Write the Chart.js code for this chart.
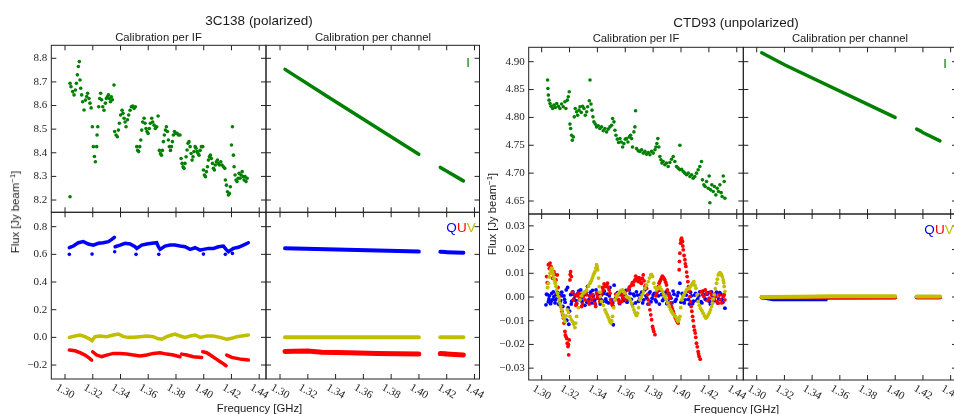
<!DOCTYPE html>
<html>
<head>
<meta charset="utf-8">
<script src="https://cdn.jsdelivr.net/npm/chart.js@4/dist/chart.umd.min.js"></script>
<style>
  body { margin: 0; background: #fff; width: 954px; height: 414px; overflow: hidden; position: relative;
         font-family: 'Liberation Sans', Arial, sans-serif; color: #1a1a1a; }
  canvas { position: absolute; left: 0; top: 0; z-index: 1; }
  .t { position: absolute; white-space: nowrap; transform: translate(-50%, -50%); line-height: 1; z-index: 2; }
  .rot { transform: translate(-50%, -50%) rotate(-90deg); }
  sup { font-size: 0.7em; vertical-align: 0.45em; }
</style>
</head>
<body>
<div class="t" style="left:259px;top:21px;font-size:13.5px">3C138 (polarized)</div>
<div class="t" style="left:736px;top:22.5px;font-size:13.5px">CTD93 (unpolarized)</div>
<div class="t" style="left:158.5px;top:37.5px;font-size:11.3px">Calibration per IF</div>
<div class="t" style="left:373px;top:37.5px;font-size:11.3px">Calibration per channel</div>
<div class="t" style="left:636px;top:39px;font-size:11.3px">Calibration per IF</div>
<div class="t" style="left:850px;top:39px;font-size:11.3px">Calibration per channel</div>
<div class="t rot" style="left:15px;top:212px;font-size:11.3px">Flux [Jy beam<sup>−1</sup>]</div>
<div class="t rot" style="left:492px;top:214px;font-size:11.3px">Flux [Jy beam<sup>−1</sup>]</div>
<div class="t" style="left:259.5px;top:409px;font-size:11.3px">Frequency [GHz]</div>
<div class="t" style="left:736.5px;top:410px;font-size:11.3px">Frequency [GHz]</div>
<div class="t" style="left:468px;top:62px;font-size:13px;color:#008000">I</div>
<div class="t" style="left:945px;top:63px;font-size:13px;color:#008000">I</div>
<div class="t" style="left:461px;top:228px;font-size:13.5px"><span style="color:#0000ff">Q</span><span style="color:#ff0000">U</span><span style="color:#bfbf00">V</span></div>
<div class="t" style="left:939px;top:230px;font-size:13.5px"><span style="color:#0000ff">Q</span><span style="color:#ff0000">U</span><span style="color:#bfbf00">V</span></div>

<script>
// ---- axis ticks ----
const freqTicks = [1.30, 1.32, 1.34, 1.36, 1.38, 1.40, 1.42, 1.44];
const freqLabels = ['1.30', '1.32', '1.34', '1.36', '1.38', '1.40', '1.42', '1.44'];
const c138ITicks = [8.2, 8.3, 8.4, 8.5, 8.6, 8.7, 8.8];
const c138ILabels = ['8.2', '8.3', '8.4', '8.5', '8.6', '8.7', '8.8'];
const c138PolTicks = [-0.2, 0.0, 0.2, 0.4, 0.6, 0.8];
const c138PolLabels = ['−0.2', '0.0', '0.2', '0.4', '0.6', '0.8'];
const ctdITicks = [4.65, 4.70, 4.75, 4.80, 4.85, 4.90];
const ctdILabels = ['4.65', '4.70', '4.75', '4.80', '4.85', '4.90'];
const ctdPolTicks = [-0.03, -0.02, -0.01, 0.0, 0.01, 0.02, 0.03];
const ctdPolLabels = ['−0.03', '−0.02', '−0.01', '0.00', '0.01', '0.02', '0.03'];

// ---- 3C138, calibration per IF  [GHz, Jy/beam] ----
const c138IfI = [
  [1.3036,8.214],[1.3036,8.694],[1.3043,8.680],[1.3055,8.659],[1.3065,8.645],[1.3075,8.666],[1.3082,8.694],
  [1.3089,8.730],[1.3096,8.765],[1.3103,8.786],[1.3108,8.708],[1.3113,8.673],[1.3120,8.645],[1.3127,8.616],
  [1.3137,8.581],[1.3147,8.623],[1.3156,8.638],[1.3163,8.652],[1.3173,8.630],[1.3180,8.610],[1.3188,8.590],
  [1.3197,8.510],[1.3204,8.426],[1.3212,8.384],[1.3219,8.362],[1.3228,8.426],[1.3231,8.475],[1.3236,8.510],
  [1.3243,8.595],[1.3250,8.630],[1.3257,8.652],[1.3264,8.624],[1.3272,8.595],[1.3281,8.580],[1.3291,8.610],
  [1.3298,8.630],[1.3305,8.637],[1.3313,8.645],[1.3320,8.630],[1.3327,8.616],[1.3334,8.637],[1.3341,8.624],
  [1.3353,8.687],[1.3358,8.490],[1.3368,8.475],[1.3377,8.468],[1.3385,8.496],[1.3392,8.525],[1.3401,8.560],
  [1.3411,8.580],[1.3418,8.567],[1.3426,8.546],[1.3433,8.530],[1.3440,8.510],[1.3450,8.540],[1.3459,8.560],
  [1.3469,8.580],[1.3478,8.595],[1.3488,8.598],[1.3498,8.588],[1.3507,8.595],[1.3517,8.426],[1.3524,8.410],
  [1.3531,8.405],[1.3539,8.426],[1.3546,8.454],[1.3553,8.496],[1.3560,8.530],[1.3570,8.546],[1.3577,8.525],
  [1.3584,8.503],[1.3591,8.490],[1.3599,8.482],[1.3608,8.503],[1.3615,8.525],[1.3625,8.546],[1.3632,8.530],
  [1.3642,8.517],[1.3651,8.503],[1.3661,8.510],[1.3671,8.556],[1.3680,8.410],[1.3688,8.397],[1.3695,8.390],
  [1.3702,8.410],[1.3709,8.447],[1.3716,8.475],[1.3724,8.496],[1.3731,8.510],[1.3738,8.490],[1.3745,8.454],
  [1.3752,8.426],[1.3760,8.410],[1.3767,8.426],[1.3774,8.447],[1.3781,8.475],[1.3789,8.490],[1.3798,8.482],
  [1.3808,8.482],[1.3817,8.475],[1.3829,8.475],[1.3837,8.376],[1.3844,8.355],[1.3851,8.341],[1.3858,8.334],
  [1.3865,8.355],[1.3873,8.383],[1.3880,8.412],[1.3887,8.440],[1.3894,8.447],[1.3902,8.426],[1.3909,8.397],
  [1.3916,8.369],[1.3923,8.383],[1.3930,8.405],[1.3938,8.426],[1.3945,8.419],[1.3952,8.405],[1.3959,8.397],
  [1.3966,8.390],[1.3974,8.410],[1.3983,8.426],[1.3993,8.426],[1.3998,8.327],[1.4005,8.306],[1.4012,8.299],
  [1.4019,8.320],[1.4027,8.341],[1.4034,8.369],[1.4041,8.383],[1.4048,8.390],[1.4055,8.376],[1.4063,8.355],
  [1.4070,8.334],[1.4077,8.327],[1.4084,8.348],[1.4091,8.362],[1.4099,8.369],[1.4106,8.355],[1.4113,8.348],
  [1.4123,8.362],[1.4132,8.348],[1.4142,8.341],[1.4152,8.334],[1.4156,8.285],[1.4164,8.263],[1.4171,8.235],
  [1.4178,8.221],[1.4185,8.228],[1.4192,8.256],[1.4200,8.433],[1.4207,8.510],[1.4214,8.390],[1.4219,8.341],
  [1.4226,8.306],[1.4233,8.285],[1.4240,8.278],[1.4248,8.292],[1.4255,8.313],[1.4262,8.292],[1.4269,8.306],
  [1.4277,8.320],[1.4284,8.299],[1.4291,8.285],[1.4298,8.299],[1.4305,8.278],[1.4313,8.292]
];
// Q, U, V form near-continuous bands; null marks a jump in the band
const c138IfQ = [
  [1.3031,0.648],[1.3060,0.660],[1.3096,0.684],[1.3132,0.692],[1.3168,0.675],[1.3204,0.667],[1.3240,0.680],
  [1.3276,0.684],[1.3313,0.692],[1.3337,0.708],[1.3356,0.723], null,
  [1.3361,0.655],[1.3397,0.667],[1.3433,0.680],[1.3469,0.675],[1.3505,0.655],[1.3517,0.643],[1.3553,0.667],
  [1.3589,0.675],[1.3625,0.680],[1.3661,0.684],[1.3673,0.655],[1.3685,0.636],[1.3721,0.660],[1.3757,0.667],
  [1.3793,0.667],[1.3829,0.660],[1.3865,0.655],[1.3902,0.636],[1.3938,0.648],[1.3974,0.631],[1.3998,0.636],
  [1.4034,0.643],[1.4070,0.643],[1.4106,0.655],[1.4142,0.660],[1.4161,0.636],[1.4178,0.619],[1.4214,0.643],
  [1.4250,0.651],[1.4286,0.667],[1.4322,0.684]
];
const c138IfQOutliers = [
  [1.3031,0.600],[1.3195,0.602],[1.3358,0.619],[1.3512,0.600],[1.3676,0.600],[1.3998,0.602],[1.4156,0.600],[1.4207,0.607]
];
const c138IfU = [
  [1.3031,-0.092],[1.3072,-0.097],[1.3108,-0.111],[1.3144,-0.128],[1.3168,-0.145],[1.3192,-0.164], null,
  [1.3199,-0.104],[1.3228,-0.128],[1.3264,-0.140],[1.3300,-0.128],[1.3349,-0.116],[1.3397,-0.116],[1.3445,-0.121],
  [1.3493,-0.128],[1.3541,-0.135],[1.3589,-0.128],[1.3637,-0.116],[1.3685,-0.111],[1.3733,-0.121],[1.3781,-0.128],
  [1.3829,-0.140], null,
  [1.3841,-0.121],[1.3877,-0.128],[1.3925,-0.140],[1.3985,-0.145], null,
  [1.3993,-0.104],[1.4022,-0.111],[1.4058,-0.135],[1.4094,-0.159],[1.4130,-0.183],[1.4161,-0.205], null,
  [1.4166,-0.128],[1.4202,-0.145],[1.4238,-0.152],[1.4274,-0.159],[1.4322,-0.164]
];
const c138IfV = [
  [1.3031,0.000],[1.3072,0.010],[1.3108,0.017],[1.3144,0.005],[1.3180,-0.014],[1.3195,-0.024],[1.3216,0.005],
  [1.3252,0.010],[1.3300,0.005],[1.3349,0.017],[1.3385,0.024],[1.3421,0.005],[1.3457,0.000],[1.3493,0.000],
  [1.3541,0.005],[1.3589,0.010],[1.3637,0.005],[1.3673,-0.010],[1.3697,-0.014],[1.3733,0.005],[1.3769,0.017],
  [1.3793,0.024],[1.3829,0.010],[1.3865,0.000],[1.3902,0.010],[1.3938,0.017],[1.3974,0.000],[1.4022,0.010],
  [1.4070,0.010],[1.4118,0.000],[1.4166,-0.014],[1.4202,-0.007],[1.4238,0.005],[1.4274,0.010],[1.4322,0.017]
];

// ---- 3C138, calibration per channel ----
const c138ChI = [[1.3036,8.753],[1.3344,8.637],[1.3999,8.394], null, [1.4154,8.338],[1.4188,8.326], null, [1.4198,8.323],[1.4320,8.281]];
const c138ChQ = [[1.3036,0.644],[1.3999,0.620], null, [1.4154,0.618],[1.4188,0.617], null, [1.4198,0.616],[1.4320,0.612]];
const c138ChU = [[1.3036,-0.102],[1.3100,-0.100],[1.3200,-0.098],[1.3300,-0.108],[1.3500,-0.112],[1.3700,-0.116],[1.3999,-0.121], null,
                 [1.4154,-0.117],[1.4188,-0.119], null, [1.4198,-0.121],[1.4320,-0.127]];
const c138ChV = [[1.3036,0.000],[1.3999,0.000], null, [1.4154,0.000],[1.4188,0.000], null, [1.4198,0.000],[1.4320,0.000]];

// ---- CTD93, calibration per IF ----
const ctdIfI = [
  [1.3043,4.867],[1.3045,4.852],[1.3048,4.840],[1.3053,4.831],[1.3060,4.825],[1.3067,4.820],[1.3079,4.816],
  [1.3088,4.822],[1.3098,4.818],[1.3108,4.825],[1.3120,4.820],[1.3131,4.816],[1.3143,4.824],[1.3155,4.819],
  [1.3167,4.828],[1.3174,4.816],[1.3184,4.831],[1.3191,4.837],[1.3198,4.846],[1.3203,4.788],[1.3208,4.780],
  [1.3215,4.768],[1.3220,4.759],[1.3227,4.765],[1.3234,4.801],[1.3241,4.816],[1.3251,4.810],[1.3258,4.804],
  [1.3268,4.813],[1.3275,4.819],[1.3284,4.809],[1.3294,4.820],[1.3304,4.816],[1.3313,4.804],[1.3323,4.810],
  [1.3330,4.819],[1.3342,4.830],[1.3347,4.867],[1.3354,4.824],[1.3361,4.813],[1.3368,4.801],[1.3375,4.792],
  [1.3385,4.788],[1.3394,4.783],[1.3406,4.785],[1.3418,4.780],[1.3430,4.783],[1.3442,4.776],[1.3454,4.780],
  [1.3466,4.774],[1.3478,4.779],[1.3490,4.783],[1.3502,4.786],[1.3509,4.798],[1.3519,4.792],[1.3526,4.777],
  [1.3533,4.768],[1.3543,4.761],[1.3552,4.755],[1.3562,4.762],[1.3571,4.756],[1.3581,4.747],[1.3590,4.753],
  [1.3600,4.761],[1.3609,4.762],[1.3619,4.756],[1.3629,4.765],[1.3638,4.768],[1.3645,4.762],[1.3652,4.747],
  [1.3662,4.774],[1.3669,4.783],[1.3674,4.812],[1.3681,4.744],[1.3693,4.740],[1.3705,4.739],[1.3717,4.742],
  [1.3729,4.736],[1.3741,4.739],[1.3753,4.734],[1.3765,4.737],[1.3777,4.733],[1.3789,4.739],[1.3801,4.736],
  [1.3813,4.742],[1.3820,4.747],[1.3827,4.753],[1.3834,4.762],[1.3841,4.747],[1.3848,4.730],[1.3856,4.724],
  [1.3863,4.718],[1.3872,4.721],[1.3884,4.715],[1.3896,4.718],[1.3908,4.712],[1.3920,4.719],[1.3932,4.725],
  [1.3944,4.730],[1.3956,4.721],[1.3968,4.712],[1.3980,4.709],[1.3992,4.750],[1.3992,4.706],[1.4004,4.707],
  [1.4016,4.703],[1.4028,4.700],[1.4040,4.697],[1.4052,4.700],[1.4064,4.694],[1.4076,4.697],[1.4087,4.691],
  [1.4099,4.694],[1.4111,4.700],[1.4123,4.706],[1.4135,4.712],[1.4147,4.721],[1.4154,4.688],[1.4164,4.679],
  [1.4173,4.676],[1.4183,4.685],[1.4195,4.673],[1.4202,4.695],[1.4207,4.647],[1.4212,4.670],[1.4221,4.679],
  [1.4231,4.667],[1.4240,4.676],[1.4250,4.661],[1.4260,4.673],[1.4269,4.667],[1.4279,4.679],[1.4288,4.665],
  [1.4295,4.658],[1.4303,4.695],[1.4310,4.685],[1.4315,4.655]
];
const ctdIfQ = [
  [1.3031,-0.0033],[1.3040,0.0010],[1.3048,-0.0020],[1.3056,0.0005],[1.3064,-0.0028],[1.3072,0.0015],[1.3080,-0.0010],
  [1.3088,0.0002],[1.3096,-0.0025],[1.3104,0.0012],[1.3112,-0.0005],[1.3120,-0.0030],[1.3128,0.0008],[1.3136,-0.0015],
  [1.3144,0.0020],[1.3152,-0.0040],[1.3160,0.0005],[1.3168,-0.0022],[1.3176,0.0030],[1.3180,-0.0098],[1.3186,0.0040],
  [1.3195,-0.0115],[1.3200,-0.0060],[1.3208,0.0010],[1.3216,-0.0018],[1.3224,0.0022],[1.3232,-0.0008],[1.3240,0.0005],
  [1.3250,-0.0030],[1.3260,0.0015],[1.3270,-0.0012],[1.3280,0.0030],[1.3290,-0.0020],[1.3300,0.0008],[1.3310,-0.0035],
  [1.3320,0.0012],[1.3330,0.0045],[1.3340,-0.0010],[1.3350,0.0020],[1.3360,-0.0025],[1.3370,0.0005],[1.3380,-0.0015],
  [1.3390,0.0030],[1.3400,-0.0005],[1.3410,0.0015],[1.3420,-0.0030],[1.3430,0.0008],[1.3440,-0.0018],[1.3450,0.0025],
  [1.3460,-0.0008],[1.3470,0.0012],[1.3480,-0.0025],[1.3490,0.0040],[1.3500,-0.0012],[1.3514,-0.0117],[1.3520,0.0050],
  [1.3530,-0.0005],[1.3545,0.0018],[1.3560,-0.0028],[1.3575,0.0010],[1.3590,-0.0015],[1.3605,0.0028],[1.3620,-0.0008],
  [1.3635,0.0015],[1.3650,-0.0030],[1.3665,0.0005],[1.3680,0.0022],[1.3695,-0.0018],[1.3710,0.0010],[1.3725,-0.0025],
  [1.3740,0.0030],[1.3755,-0.0005],[1.3770,0.0015],[1.3785,-0.0020],[1.3800,0.0008],[1.3815,-0.0012],[1.3830,0.0025],
  [1.3845,-0.0030],[1.3860,0.0010],[1.3875,-0.0008],[1.3890,0.0020],[1.3905,-0.0015],[1.3920,0.0005],[1.3935,-0.0025],
  [1.3950,0.0012],[1.3965,-0.0010],[1.3980,0.0018],[1.3992,0.0058],[1.4000,-0.0022],[1.4015,0.0008],[1.4030,-0.0012],
  [1.4045,0.0025],[1.4060,-0.0030],[1.4075,0.0005],[1.4090,-0.0018],[1.4105,0.0015],[1.4120,-0.0008],[1.4135,0.0022],
  [1.4150,-0.0025],[1.4165,0.0010],[1.4180,-0.0012],[1.4195,0.0018],[1.4210,-0.0030],[1.4225,0.0005],[1.4240,-0.0015],
  [1.4255,0.0020],[1.4270,-0.0008],[1.4285,0.0012],[1.4300,-0.0022],[1.4315,-0.0047],
  [1.3035,0.0012],[1.3052,-0.0008],[1.3068,-0.0018],[1.3084,0.0022],[1.3100,-0.0012],[1.3116,0.0018],[1.3132,-0.0022],
  [1.3148,0.0005],[1.3164,-0.0010],[1.3190,-0.0045],[1.3212,-0.0030],[1.3228,0.0012],[1.3245,-0.0015],[1.3265,0.0025],
  [1.3285,-0.0005],[1.3305,0.0018],[1.3325,-0.0022],[1.3345,0.0005],[1.3365,0.0028],[1.3385,-0.0030],[1.3405,0.0008],
  [1.3425,-0.0010],[1.3445,0.0015],[1.3465,-0.0020],[1.3485,0.0005],[1.3510,-0.0025],[1.3538,0.0012],[1.3553,-0.0012],
  [1.3568,0.0025],[1.3583,-0.0005],[1.3598,0.0010],[1.3613,-0.0022],[1.3628,0.0030],[1.3643,-0.0010],[1.3658,0.0012],
  [1.3673,-0.0025],[1.3688,0.0008],[1.3703,-0.0008],[1.3718,0.0020],[1.3733,-0.0012],[1.3748,0.0005],[1.3763,-0.0030],
  [1.3778,0.0022],[1.3793,-0.0005],[1.3808,0.0015],[1.3823,-0.0020],[1.3838,0.0005],[1.3853,0.0028],[1.3868,-0.0015],
  [1.3883,0.0008],[1.3898,-0.0028],[1.3913,0.0015],[1.3928,-0.0005],[1.3943,0.0025],[1.3958,-0.0018],[1.3973,0.0005],
  [1.4008,0.0015],[1.4023,-0.0025],[1.4038,0.0008],[1.4053,-0.0010],[1.4068,0.0020],[1.4083,-0.0028],[1.4098,0.0008],
  [1.4113,-0.0015],[1.4128,0.0005],[1.4143,-0.0020],[1.4158,0.0025],[1.4173,-0.0008],[1.4188,0.0012],[1.4203,-0.0018],
  [1.4218,0.0022],[1.4233,-0.0005],[1.4248,0.0010],[1.4263,-0.0025],[1.4278,0.0018],[1.4293,-0.0010],[1.4308,0.0008]
];
const ctdIfU = [
  [1.3036,0.0086],[1.3048,0.0136],[1.3060,0.0143],[1.3067,0.0129],[1.3079,0.0079],[1.3088,0.0107],[1.3103,0.0072],
  [1.3112,0.0093],[1.3124,0.0002],[1.3136,-0.0040],[1.3151,-0.0075],[1.3160,-0.0110],[1.3167,-0.0145],[1.3174,-0.0167],
  [1.3184,-0.0195],[1.3189,-0.0209],[1.3194,-0.0244],[1.3198,-0.0181],[1.3203,0.0072],[1.3208,0.0107],[1.3213,0.0086],
  [1.3227,-0.0012],[1.3239,0.0009],[1.3251,-0.0026],[1.3263,0.0016],[1.3275,-0.0005],[1.3287,-0.0040],[1.3299,0.0002],
  [1.3311,-0.0012],[1.3323,0.0009],[1.3335,-0.0019],[1.3347,0.0002],[1.3359,-0.0012],[1.3371,-0.0005],[1.3382,-0.0026],
  [1.3394,0.0016],[1.3406,-0.0005],[1.3418,-0.0019],[1.3430,0.0016],[1.3442,0.0030],[1.3454,0.0044],[1.3466,0.0051],
  [1.3478,0.0040],[1.3490,0.0016],[1.3502,-0.0026],[1.3514,-0.0040],[1.3526,-0.0012],[1.3538,0.0002],[1.3550,-0.0012],
  [1.3562,0.0009],[1.3574,-0.0019],[1.3586,-0.0005],[1.3598,0.0016],[1.3609,0.0002],[1.3621,0.0030],[1.3633,0.0044],
  [1.3645,0.0051],[1.3657,0.0051],[1.3669,0.0072],[1.3681,0.0079],[1.3693,0.0065],[1.3705,0.0072],[1.3717,0.0058],
  [1.3729,0.0093],[1.3741,0.0044],[1.3753,0.0037],[1.3765,-0.0012],[1.3777,-0.0054],[1.3789,-0.0096],[1.3796,-0.0124],
  [1.3805,-0.0145],[1.3813,-0.0159],[1.3825,0.0016],[1.3837,0.0044],[1.3848,0.0065],[1.3860,0.0079],[1.3872,0.0084],
  [1.3884,0.0072],[1.3896,0.0051],[1.3908,0.0016],[1.3920,-0.0005],[1.3932,-0.0040],[1.3944,-0.0061],[1.3956,-0.0082],
  [1.3968,-0.0099],[1.3980,-0.0110],[1.3987,0.0115],[1.3992,0.0185],[1.3997,0.0227],[1.4004,0.0248],[1.4011,0.0234],
  [1.4016,0.0199],[1.4028,0.0157],[1.4035,0.0129],[1.4044,0.0086],[1.4054,0.0044],[1.4064,0.0002],[1.4073,-0.0040],
  [1.4083,-0.0082],[1.4092,-0.0124],[1.4102,-0.0152],[1.4111,-0.0195],[1.4123,-0.0230],[1.4130,-0.0251],[1.4138,-0.0262],
  [1.4147,0.0023],[1.4164,0.0002],[1.4183,0.0016],[1.4202,-0.0005],[1.4219,0.0009],[1.4231,-0.0012],[1.4250,0.0002],
  [1.4267,-0.0026],[1.4283,-0.0012],[1.4303,0.0002],[1.4315,-0.0012],
  [1.3040,0.0060],[1.3055,0.0120],[1.3072,0.0110],[1.3095,0.0095],[1.3118,0.0040],[1.3145,-0.0060],[1.3157,-0.0090],
  [1.3170,-0.0160],[1.3180,-0.0175],[1.3192,-0.0200],[1.3205,0.0095],[1.3220,0.0020],[1.3245,-0.0035],[1.3257,0.0005],
  [1.3281,0.0012],[1.3293,-0.0030],[1.3317,0.0020],[1.3341,-0.0030],[1.3365,0.0010],[1.3388,-0.0040],[1.3400,0.0005],
  [1.3436,0.0040],[1.3448,0.0055],[1.3460,0.0045],[1.3472,0.0058],[1.3484,0.0030],[1.3496,-0.0010],[1.3508,-0.0035],
  [1.3532,0.0012],[1.3556,-0.0025],[1.3580,0.0008],[1.3604,-0.0010],[1.3627,0.0038],[1.3651,0.0060],[1.3663,0.0065],
  [1.3675,0.0088],[1.3687,0.0070],[1.3699,0.0082],[1.3711,0.0060],[1.3723,0.0078],[1.3735,0.0068],[1.3747,0.0050],
  [1.3759,0.0010],[1.3771,-0.0030],[1.3783,-0.0075],[1.3800,-0.0135],[1.3819,0.0005],[1.3831,0.0030],[1.3843,0.0058],
  [1.3854,0.0072],[1.3866,0.0088],[1.3878,0.0078],[1.3890,0.0062],[1.3902,0.0030],[1.3914,0.0005],[1.3926,-0.0025],
  [1.3938,-0.0050],[1.3950,-0.0072],[1.3962,-0.0090],[1.3974,-0.0105],[1.3989,0.0150],[1.3999,0.0240],[1.4007,0.0238],
  [1.4013,0.0215],[1.4022,0.0175],[1.4031,0.0140],[1.4040,0.0105],[1.4049,0.0065],[1.4059,0.0025],[1.4068,-0.0020],
  [1.4078,-0.0060],[1.4087,-0.0100],[1.4097,-0.0140],[1.4106,-0.0170],[1.4117,-0.0210],[1.4126,-0.0240],[1.4155,0.0010],
  [1.4174,0.0030],[1.4192,-0.0015],[1.4210,0.0020],[1.4225,-0.0025],[1.4240,0.0012],[1.4258,-0.0020],[1.4275,0.0008],
  [1.4293,-0.0025],[1.4309,0.0010]
];
const ctdIfV = [
  [1.3048,0.0058],[1.3060,0.0100],[1.3072,0.0122],[1.3079,0.0107],[1.3088,0.0079],[1.3098,0.0058],[1.3108,0.0030],
  [1.3120,0.0002],[1.3131,-0.0026],[1.3143,-0.0054],[1.3155,-0.0082],[1.3167,-0.0103],[1.3184,-0.0054],[1.3203,-0.0082],
  [1.3222,-0.0103],[1.3239,-0.0129],[1.3251,-0.0082],[1.3275,-0.0012],[1.3299,0.0016],[1.3323,0.0030],[1.3347,0.0058],
  [1.3359,0.0072],[1.3371,0.0093],[1.3382,0.0107],[1.3394,0.0136],[1.3402,0.0115],[1.3413,0.0044],[1.3423,0.0002],
  [1.3430,-0.0019],[1.3454,-0.0054],[1.3471,-0.0075],[1.3485,-0.0096],[1.3497,-0.0110],[1.3509,-0.0082],[1.3526,-0.0012],
  [1.3543,0.0009],[1.3562,0.0023],[1.3581,0.0030],[1.3598,0.0016],[1.3609,0.0002],[1.3629,-0.0005],[1.3645,-0.0026],
  [1.3662,-0.0054],[1.3676,-0.0075],[1.3688,-0.0068],[1.3705,-0.0012],[1.3722,0.0009],[1.3741,0.0037],[1.3765,0.0065],
  [1.3782,0.0093],[1.3796,0.0086],[1.3805,0.0058],[1.3825,0.0030],[1.3848,0.0044],[1.3868,0.0023],[1.3884,0.0002],
  [1.3896,-0.0012],[1.3915,-0.0040],[1.3932,-0.0061],[1.3949,-0.0075],[1.3968,-0.0089],[1.3980,-0.0103],[1.3992,-0.0082],
  [1.4004,-0.0012],[1.4021,0.0009],[1.4040,0.0030],[1.4059,0.0037],[1.4076,0.0051],[1.4092,0.0065],[1.4107,0.0037],
  [1.4123,-0.0019],[1.4140,-0.0047],[1.4159,-0.0068],[1.4178,-0.0089],[1.4195,-0.0075],[1.4212,-0.0054],[1.4226,-0.0026],
  [1.4238,0.0009],[1.4255,0.0058],[1.4267,0.0093],[1.4279,0.0103],[1.4291,0.0093],[1.4303,0.0072],[1.4310,0.0044],
  [1.4315,0.0023],
  [1.3043,0.0040],[1.3054,0.0085],[1.3066,0.0115],[1.3075,0.0118],[1.3083,0.0095],[1.3093,0.0068],[1.3103,0.0045],
  [1.3114,0.0015],[1.3125,-0.0012],[1.3137,-0.0040],[1.3149,-0.0068],[1.3161,-0.0092],[1.3175,-0.0080],[1.3193,-0.0065],
  [1.3212,-0.0095],[1.3230,-0.0115],[1.3245,-0.0110],[1.3263,-0.0045],[1.3287,0.0005],[1.3311,0.0022],[1.3335,0.0045],
  [1.3353,0.0065],[1.3365,0.0082],[1.3377,0.0100],[1.3388,0.0122],[1.3398,0.0128],[1.3408,0.0080],[1.3418,0.0020],
  [1.3442,-0.0035],[1.3462,-0.0065],[1.3478,-0.0085],[1.3491,-0.0105],[1.3503,-0.0100],[1.3517,-0.0045],[1.3535,0.0000],
  [1.3552,0.0015],[1.3571,0.0028],[1.3590,0.0022],[1.3619,-0.0002],[1.3637,-0.0015],[1.3654,-0.0040],[1.3669,-0.0065],
  [1.3682,-0.0078],[1.3696,-0.0045],[1.3713,-0.0002],[1.3731,0.0022],[1.3753,0.0050],[1.3773,0.0080],[1.3789,0.0095],
  [1.3815,0.0040],[1.3837,0.0038],[1.3858,0.0032],[1.3876,0.0012],[1.3890,-0.0005],[1.3905,-0.0025],[1.3924,-0.0052],
  [1.3940,-0.0068],[1.3958,-0.0082],[1.3974,-0.0098],[1.3986,-0.0095],[1.3998,-0.0045],[1.4012,0.0000],[1.4030,0.0020],
  [1.4050,0.0035],[1.4067,0.0045],[1.4084,0.0058],[1.4100,0.0050],[1.4115,0.0010],[1.4131,-0.0035],[1.4150,-0.0058],
  [1.4168,-0.0080],[1.4186,-0.0085],[1.4204,-0.0065],[1.4219,-0.0040],[1.4232,-0.0008],[1.4246,0.0035],[1.4261,0.0075],
  [1.4273,0.0098],[1.4285,0.0100],[1.4297,0.0085],[1.4307,0.0060]
];

// ---- CTD93, calibration per channel ----
const ctdChI = [[1.3036,4.916],[1.3204,4.894],[1.3999,4.800], null, [1.4155,4.779],[1.4188,4.775], null, [1.4198,4.773],[1.4323,4.758]];
const ctdChQ = [[1.3036,-0.0001],[1.3118,-0.0009],[1.3500,-0.0009],[1.3510,-0.0002],[1.3999,-0.0001], null, [1.4155,0.0000],[1.4323,0.0000]];
const ctdChU = [[1.3036,-0.0002],[1.3999,-0.0002], null, [1.4155,-0.0002],[1.4323,-0.0002]];
const ctdChV = [[1.3036,0.0000],[1.3300,0.0001],[1.3550,0.0003],[1.3999,0.0003], null, [1.4155,0.0002],[1.4188,0.0002], null, [1.4198,0.0002],[1.4323,0.0002]];

const GREEN = '#008000', BLUE = '#0000ff', RED = '#ff0000', YELLOW = '#bfbf00';
const W = 960, H = 414;

function toXY(pairs) {
  return pairs.map(p => ({ x: p[0], y: p[1] }));
}

// split at null markers so every stretch becomes its own line
function segments(pairs) {
  const out = [[]];
  pairs.forEach(p => {
    if (p === null) out.push([]);
    else out[out.length - 1].push({ x: p[0], y: p[1] });
  });
  return out.filter(s => s.length);
}

function dots(pairs, color, r) {
  return [{ data: toXY(pairs), backgroundColor: color, borderWidth: 0, pointRadius: r || 1.8, showLine: false }];
}

function lines(pairs, color, w) {
  return segments(pairs).map(d => ({
    data: d, borderColor: color, borderWidth: w, pointRadius: 0, showLine: true,
    borderCapStyle: 'round', spanGaps: false, fill: false
  }));
}

// spines, inward ticks and tick labels, placed through the chart's own scales
const framePlugin = {
  id: 'frame',
  afterDatasetsDraw(chart, args, o) {
    const { ctx, chartArea: a } = chart;
    const x = chart.scales.x, y = chart.scales.y;
    ctx.save();
    ctx.strokeStyle = '#222';
    ctx.lineWidth = 1;
    ctx.strokeRect(a.left, a.top, a.right - a.left, a.bottom - a.top);
    ctx.beginPath();
    freqTicks.forEach(v => {
      const px = x.getPixelForValue(v);
      ctx.moveTo(px, a.top); ctx.lineTo(px, a.top + 5);
      ctx.moveTo(px, a.bottom); ctx.lineTo(px, a.bottom - 5);
    });
    o.yTicks.forEach(v => {
      const py = y.getPixelForValue(v);
      ctx.moveTo(a.left, py); ctx.lineTo(a.left + 5, py);
      ctx.moveTo(a.right, py); ctx.lineTo(a.right - 5, py);
    });
    ctx.stroke();

    ctx.fillStyle = '#222';
    ctx.font = '11px "Liberation Serif", serif';
    if (o.yLabels) {
      ctx.textAlign = 'right';
      ctx.textBaseline = 'middle';
      o.yTicks.forEach((v, i) => ctx.fillText(o.yLabels[i], a.left - 4, y.getPixelForValue(v)));
    }
    if (o.xLabels) {
      ctx.textAlign = 'center';
      ctx.textBaseline = 'middle';
      freqTicks.forEach((v, i) => {
        ctx.save();
        ctx.translate(x.getPixelForValue(v), a.bottom + 12.5);
        ctx.rotate(Math.PI / 6);
        ctx.fillText(freqLabels[i], 0, 0);
        ctx.restore();
      });
    }
    ctx.restore();
  }
};

function panel(box, xRange, yRange, datasets, frame) {
  const cv = document.createElement('canvas');
  cv.width = W; cv.height = H;
  cv.style.width = W + 'px'; cv.style.height = H + 'px';
  document.body.appendChild(cv);
  return new Chart(cv, {
    type: 'scatter',
    // first dataset is drawn on top in Chart.js, so reverse the paint order
    data: { datasets: datasets.slice().reverse() },
    options: {
      responsive: false,
      animation: false,
      events: [],
      layout: { padding: { left: box[0], top: box[1], right: W - box[2], bottom: H - box[3] } },
      scales: {
        x: { type: 'linear', display: false, min: xRange[0], max: xRange[1] },
        y: { type: 'linear', display: false, min: yRange[0], max: yRange[1] }
      },
      plugins: { legend: { display: false }, tooltip: { enabled: false }, frame }
    },
    plugins: [framePlugin]
  });
}

// 3C138 per IF
panel([51.3, 45.3, 266, 212.3], [1.2901, 1.4449], [8.148, 8.855],
  dots(c138IfI, GREEN),
  { yTicks: c138ITicks, yLabels: c138ILabels });
panel([51.3, 212.3, 266, 379], [1.2901, 1.4449], [-0.301, 0.904],
  [].concat(lines(c138IfQ, BLUE, 3.5), dots(c138IfQOutliers, BLUE), lines(c138IfU, RED, 3.5), lines(c138IfV, YELLOW, 3.5)),
  { yTicks: c138PolTicks, yLabels: c138PolLabels, xLabels: true });

// 3C138 per channel
panel([266, 45.3, 479.5, 212.3], [1.2899, 1.4436], [8.148, 8.855],
  lines(c138ChI, GREEN, 3.5),
  { yTicks: c138ITicks });
panel([266, 212.3, 479.5, 379], [1.2899, 1.4436], [-0.301, 0.904],
  [].concat(lines(c138ChQ, BLUE, 4), lines(c138ChU, RED, 5), lines(c138ChV, YELLOW, 4)),
  { yTicks: c138PolTicks, xLabels: true });

// CTD93 per IF
panel([528.7, 47.3, 743.3, 214], [1.2907, 1.4447], [4.6267, 4.9258],
  dots(ctdIfI, GREEN),
  { yTicks: ctdITicks, yLabels: ctdILabels });
panel([528.7, 214, 743.3, 380], [1.2907, 1.4447], [-0.035, 0.035],
  [].concat(dots(ctdIfQ, BLUE, 1.9), dots(ctdIfU, RED, 1.9), dots(ctdIfV, YELLOW, 1.9)),
  { yTicks: ctdPolTicks, yLabels: ctdPolLabels, xLabels: true });

// CTD93 per channel
panel([743.3, 47.3, 957, 214], [1.2903, 1.4446], [4.6267, 4.9258],
  lines(ctdChI, GREEN, 3.5),
  { yTicks: ctdITicks });
panel([743.3, 214, 957, 380], [1.2903, 1.4446], [-0.035, 0.035],
  [].concat(lines(ctdChQ, BLUE, 4), lines(ctdChU, RED, 4), lines(ctdChV, YELLOW, 4)),
  { yTicks: ctdPolTicks, xLabels: true });
</script>
</body>
</html>
